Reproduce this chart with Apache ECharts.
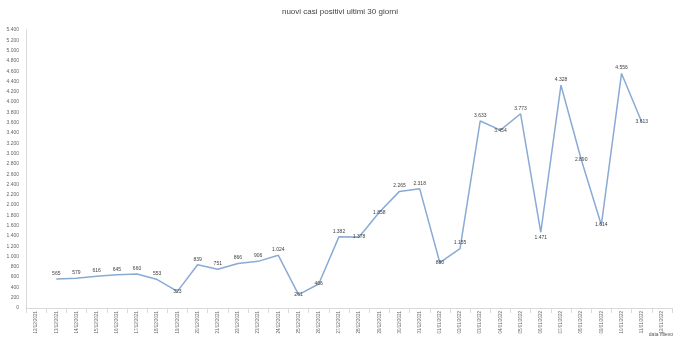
<!DOCTYPE html>
<html><head><meta charset="utf-8">
<script src="https://cdn.jsdelivr.net/npm/echarts@6/dist/echarts.min.js"></script>
<style>html,body{margin:0;padding:0;background:#fff}#c{width:680px;height:355px}</style>
</head><body><div id="c"></div>
<script>
const categories = ["12/12/2021","13/12/2021","14/12/2021","15/12/2021","16/12/2021","17/12/2021","18/12/2021","19/12/2021","20/12/2021","21/12/2021","22/12/2021","23/12/2021","24/12/2021","25/12/2021","26/12/2021","27/12/2021","28/12/2021","29/12/2021","30/12/2021","31/12/2021","01/01/2022","02/01/2022","03/01/2022","04/01/2022","05/01/2022","06/01/2022","07/01/2022","08/01/2022","09/01/2022","10/01/2022","11/01/2022","12/01/2022"];
const newCases = [null,565,579,616,645,660,553,323,839,751,866,906,1024,261,466,1382,1378,1858,2265,2318,880,1155,3633,3454,3773,1471,4328,2890,1614,4556,3613,null];
const centeredLabels = [7,13,14,16,17,20,23,27,28,30];
const belowLabels = [25];

const fmt = v => String(v).replace(/\B(?=(\d{3})+(?!\d))/g, '.');
const data = newCases.map((v, i) => {
  if (v === null) return null;
  let pos = 'top';
  if (centeredLabels.includes(i)) pos = 'inside';
  if (belowLabels.includes(i)) pos = 'bottom';
  return { value: v, label: { position: pos } };
});

const chart = echarts.init(document.getElementById('c'));
chart.setOption({
  animation: false,
  title: [
    { text: 'nuovi casi positivi ultimi 30 giorni', left: 'center', top: 8, padding: 0,
      textStyle: { fontSize: 8, fontWeight: 'normal', color: '#444', fontFamily: 'Liberation Sans' } },
    { text: 'data rilievo', right: 7, top: 332, padding: 0,
      textStyle: { fontSize: 5, fontWeight: 'normal', color: '#555', fontFamily: 'Liberation Sans' } }
  ],
  grid: { left: 26, right: 8, top: 30, bottom: 47, outerBoundsMode: 'none', containLabel: false },
  xAxis: {
    type: 'category', data: categories, boundaryGap: true,
    axisLine: { lineStyle: { color: '#d9d9d9' } },
    axisTick: { show: true, alignWithLabel: false, lineStyle: { color: '#d9d9d9' } },
    axisLabel: { rotate: 90, fontSize: 4.5, color: '#666', interval: 0, fontFamily: 'Liberation Sans', margin: 3 }
  },
  yAxis: {
    type: 'value', min: 0, max: 5400, interval: 200,
    axisLine: { show: true, lineStyle: { color: '#d9d9d9' } },
    axisTick: { show: false },
    splitLine: { show: false },
    axisLabel: { fontSize: 5, color: '#666', fontFamily: 'Liberation Sans', formatter: fmt, margin: 7 }
  },
  series: [{
    type: 'line', data: data, showSymbol: true, symbol: 'circle', symbolSize: 2,
    itemStyle: { color: 'rgba(0,0,0,0)', borderWidth: 0 },
    lineStyle: { color: '#8aaad6', width: 1.5 },
    labelLayout: { hideOverlap: false },
    label: { show: true, fontSize: 5, color: '#404040', fontFamily: 'Liberation Sans', distance: 2,
      formatter: p => fmt(p.value) }
  }]
});
</script></body></html>
